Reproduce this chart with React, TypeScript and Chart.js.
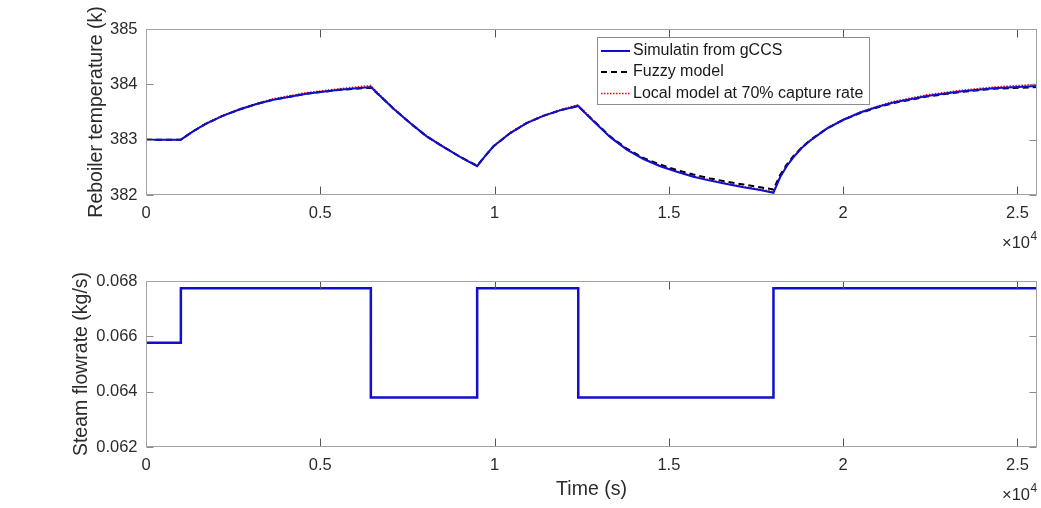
import React, { useEffect, useRef } from "react";
import { Chart, registerables } from "chart.js";

Chart.register(...registerables);

// ---------------- data ----------------
const timeTemp = [
  0, 1000, 1350, 1700, 2200, 2700, 3200, 3650, 4600, 5550, 6450,
  6800, 7100, 7575, 8050, 8530, 9010, 9500,
  9750, 9970, 10450, 10920, 11400, 11880, 12390,
  12840, 13310, 13790, 14270, 14750, 15230, 15700, 16180, 16660, 17140, 17620, 18000,
  18190, 18380, 18570, 18810, 19050, 19530, 20010, 20490, 20970, 21440, 22400, 23360, 24310, 25560,
];
const gccsTemp = [
  383.0, 383.0, 383.15, 383.28, 383.43, 383.55, 383.65, 383.72, 383.83, 383.9, 383.95,
  383.74, 383.56, 383.3, 383.06, 382.87, 382.69, 382.52,
  382.72, 382.88, 383.12, 383.3, 383.43, 383.53, 383.61,
  383.33, 383.05, 382.82, 382.65, 382.52, 382.42, 382.33, 382.26, 382.2, 382.14, 382.09, 382.04,
  382.32, 382.52, 382.68, 382.85, 382.98, 383.2, 383.36, 383.49, 383.59, 383.67, 383.79, 383.87, 383.93, 383.97,
];
const fuzzyTemp = [
  383.0, 383.0, 383.15, 383.28, 383.43, 383.55, 383.65, 383.72, 383.83, 383.9, 383.94,
  383.74, 383.56, 383.3, 383.06, 382.87, 382.69, 382.53,
  382.72, 382.88, 383.12, 383.3, 383.43, 383.53, 383.61,
  383.34, 383.06, 382.84, 382.67, 382.55, 382.45, 382.37, 382.3, 382.24, 382.19, 382.14, 382.1,
  382.36, 382.55, 382.7, 382.86, 382.99, 383.2, 383.36, 383.48, 383.58, 383.66, 383.78, 383.86, 383.92, 383.95,
];
const localTemp = [
  383.0, 383.0, 383.15, 383.29, 383.44, 383.56, 383.66, 383.74, 383.85, 383.92, 383.98,
  383.75, 383.57, 383.31, 383.07, 382.88, 382.69, 382.52,
  382.72, 382.89, 383.13, 383.31, 383.44, 383.54, 383.63,
  383.35, 383.06, 382.83, 382.66, 382.53, 382.43, 382.34, 382.27, 382.21, 382.15, 382.1, 382.06,
  382.33, 382.53, 382.69, 382.86, 382.99, 383.21, 383.37, 383.5, 383.6, 383.69, 383.81, 383.89, 383.95, 384.0,
];

const stepTimes = [0, 1000, 6450, 9500, 12400, 18000, 25560];
const steamFlow = [0.06577, 0.06774, 0.06379, 0.06774, 0.06379, 0.06774, 0.06774];

const X_MAX = 25560;
const xTicks = [0, 5000, 10000, 15000, 20000, 25000];
const xTickLabels = ["0", "0.5", "1", "1.5", "2", "2.5"];
const tempTicks = [382, 383, 384, 385];
const tempTickLabels = ["382", "383", "384", "385"];
const flowTicks = [0.062, 0.064, 0.066, 0.068];
const flowTickLabels = ["0.062", "0.064", "0.066", "0.068"];
const seriesLabels = ["Simulatin from gCCS", "Fuzzy model", "Local model at 70% capture rate"];

// ---------------- styles ----------------
const FONT = "'Liberation Sans', Arial, Helvetica, sans-serif";
const TEXT = "#2b2b2b";
const BLUE = "#1010cc";
const BOX = "#a3a3a3";
const TICK = "#555555";

const tickFont = { family: FONT, size: 16.5, lineHeight: 1.2 };
const titleFont = { family: FONT, size: 19.5, lineHeight: 1.2 };

function framePlugin(showExp: boolean) {
  return {
    id: "matlabFrame",
    afterDraw(chart: any) {
      const { ctx, chartArea: a, scales } = chart;
      const L = Math.round(a.left) + 0.5;
      const R = Math.round(a.right) - 0.5;
      const T = Math.round(a.top) + 0.5;
      const B = Math.round(a.bottom) - 0.5;
      ctx.save();
      ctx.lineWidth = 1;
      ctx.strokeStyle = TICK;
      ctx.beginPath();
      for (const t of scales.x.ticks) {
        const px = Math.round(scales.x.getPixelForValue(t.value)) + 0.5;
        ctx.moveTo(px, B);
        ctx.lineTo(px, B - 8);
        ctx.moveTo(px, T);
        ctx.lineTo(px, T + 8);
      }
      ctx.stroke();
      ctx.strokeStyle = "#8a8a8a";
      ctx.beginPath();
      for (const t of scales.y.ticks) {
        const py = Math.round(scales.y.getPixelForValue(t.value)) + 0.5;
        ctx.moveTo(L, py);
        ctx.lineTo(L + 7, py);
        ctx.moveTo(R, py);
        ctx.lineTo(R - 7, py);
      }
      ctx.stroke();
      ctx.strokeStyle = BOX;
      ctx.strokeRect(L, T, R - L, B - T);

      if (showExp) {
        const by = B + 49;
        ctx.fillStyle = TEXT;
        ctx.textBaseline = "middle";
        ctx.font = `16.5px ${FONT}`;
        ctx.textAlign = "right";
        ctx.fillText("\u00d710", 1030, by);
        ctx.textAlign = "left";
        ctx.font = `12px ${FONT}`;
        ctx.fillText("4", 1030.5, by - 7);
      }
      ctx.restore();
    },
  };
}

const legendPlugin = {
  id: "matlabLegend",
  afterDraw(chart: any) {
    const { ctx } = chart;
    const x0 = 597.5, y0 = 37.5, w = 272, h = 67;
    ctx.save();
    ctx.fillStyle = "#ffffff";
    ctx.fillRect(x0, y0, w, h);
    ctx.strokeStyle = "#8c8c8c";
    ctx.lineWidth = 1;
    ctx.strokeRect(x0, y0, w, h);
    const rows = [51, 72, 93.5];
    chart.data.datasets.forEach((ds: any, i: number) => {
      const y = rows[i];
      ctx.beginPath();
      ctx.strokeStyle = ds.borderColor;
      ctx.lineWidth = ds.borderWidth;
      ctx.setLineDash(ds.borderDash || []);
      ctx.moveTo(601, y);
      ctx.lineTo(630, y);
      ctx.stroke();
      ctx.setLineDash([]);
      ctx.fillStyle = "#1a1a1a";
      ctx.font = `16px ${FONT}`;
      ctx.textAlign = "left";
      ctx.textBaseline = "middle";
      ctx.fillText(ds.label, 633, y);
    });
    ctx.restore();
  },
};

function xScale(height: number, title?: string) {
  return {
    type: "linear",
    min: 0,
    max: X_MAX,
    afterFit: (s: any) => {
      s.height = height;
    },
    afterBuildTicks: (s: any) => {
      s.ticks = xTicks.map((v) => ({ value: v }));
    },
    grid: { display: false, drawTicks: false },
    border: { display: false },
    ticks: {
      padding: 9,
      font: tickFont,
      color: TEXT,
      autoSkip: false,
      maxRotation: 0,
      callback: (v: number) => xTickLabels[xTicks.indexOf(v)] ?? "",
    },
    title: title
      ? { display: true, text: title, font: titleFont, color: TEXT, padding: { top: 0, bottom: 7 } }
      : { display: false },
  };
}

function yScale(min: number, max: number, ticks: number[], labels: string[], width: number, title: string) {
  return {
    type: "linear",
    min,
    max,
    afterFit: (s: any) => {
      s.width = width;
    },
    afterBuildTicks: (s: any) => {
      s.ticks = ticks.map((v) => ({ value: v }));
    },
    grid: { display: false, drawTicks: false },
    border: { display: false },
    ticks: {
      padding: 8.5,
      font: tickFont,
      color: TEXT,
      autoSkip: false,
      callback: (v: number) => {
        const i = ticks.findIndex((t) => Math.abs(t - v) < 1e-9);
        return i >= 0 ? labels[i] : "";
      },
    },
    title: { display: true, text: title, font: titleFont, color: TEXT, padding: 0 },
  };
}

export default function App() {
  const topRef = useRef<HTMLCanvasElement>(null);
  const botRef = useRef<HTMLCanvasElement>(null);

  useEffect(() => {
    const mk = (ts: number[], ys: number[]) => ts.map((t, i) => ({ x: t, y: ys[i] }));
    const top = new Chart(topRef.current as HTMLCanvasElement, {
      type: "line",
      data: {
        datasets: [
          { label: seriesLabels[0], data: mk(timeTemp, gccsTemp), borderColor: BLUE, borderWidth: 2, pointRadius: 0, tension: 0 },
          { label: seriesLabels[1], data: mk(timeTemp, fuzzyTemp), borderColor: "#000000", borderWidth: 2, borderDash: [6, 4], pointRadius: 0, tension: 0 },
          { label: seriesLabels[2], data: mk(timeTemp, localTemp), borderColor: "#ff0000", borderWidth: 1.5, borderDash: [1.5, 1.5], pointRadius: 0, tension: 0 },
        ],
      },
      options: {
        responsive: false,
        animation: false,
        devicePixelRatio: 1,
        layout: { padding: { left: 85, right: 4, top: 29, bottom: 0 } },
        plugins: { legend: { display: false }, tooltip: { enabled: false } },
        scales: {
          x: xScale(59) as any,
          y: yScale(382, 385, tempTicks, tempTickLabels, 61, "Reboiler temperature (k)") as any,
        },
      },
      plugins: [framePlugin(true), legendPlugin],
    });
    const bot = new Chart(botRef.current as HTMLCanvasElement, {
      type: "line",
      data: {
        datasets: [
          { label: "Steam flowrate", data: mk(stepTimes, steamFlow), borderColor: BLUE, borderWidth: 2.5, pointRadius: 0, stepped: true },
        ],
      },
      options: {
        responsive: false,
        animation: false,
        devicePixelRatio: 1,
        layout: { padding: { left: 70, right: 4, top: 27, bottom: 0 } },
        plugins: { legend: { display: false }, tooltip: { enabled: false } },
        scales: {
          x: xScale(61, "Time (s)") as any,
          y: yScale(0.062, 0.068, flowTicks, flowTickLabels, 76, "Steam flowrate (kg/s)") as any,
        },
      },
      plugins: [framePlugin(true)],
    });
    return () => {
      top.destroy();
      bot.destroy();
    };
  }, []);

  return (
    <div style={{ position: "absolute", left: 0, top: 0, width: 1041, height: 508, background: "#fff" }}>
      <canvas ref={topRef} width={1041} height={254} style={{ display: "block", width: 1041, height: 254 }} />
      <canvas ref={botRef} width={1041} height={254} style={{ display: "block", width: 1041, height: 254 }} />
    </div>
  );
}
